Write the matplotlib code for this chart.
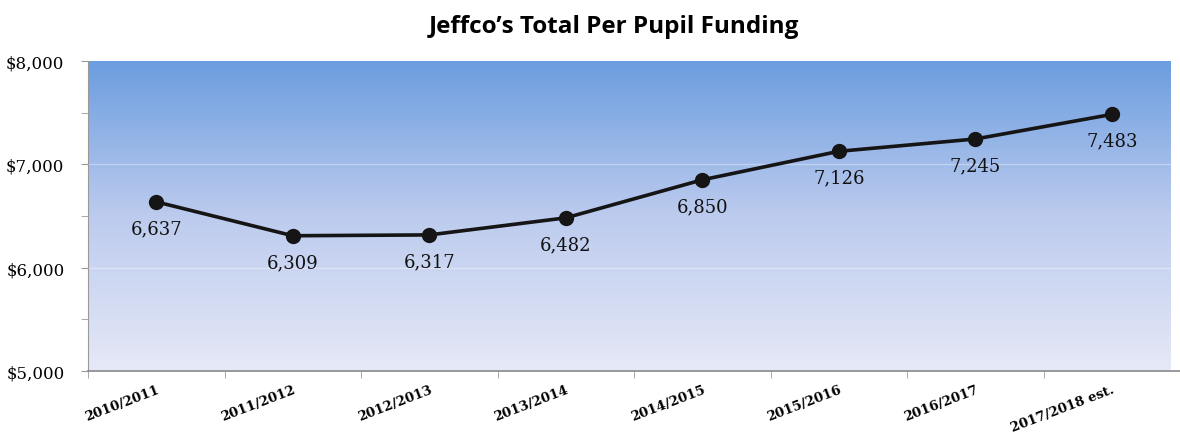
import matplotlib
matplotlib.use("Agg")
import matplotlib.pyplot as plt
import numpy as np
from matplotlib.colors import LinearSegmentedColormap

years = ["2010/2011", "2011/2012", "2012/2013", "2013/2014", "2014/2015",
         "2015/2016", "2016/2017", "2017/2018 est."]
funding = [6637, 6309, 6317, 6482, 6850, 7126, 7245, 7483]
ytick_labels = ["$5,000", "$6,000", "$7,000", "$8,000"]
ytick_values = [5000, 6000, 7000, 8000]

fig = plt.figure(figsize=(11.8, 4.35), dpi=100)
ax = fig.add_axes([0.0746, 0.1448, 0.9254, 0.7127])

x = np.arange(len(years))
xlim = (-0.5, len(years) - 0.57)
ax.set_xlim(*xlim)
ax.set_ylim(5000, 8000)

cmap = LinearSegmentedColormap.from_list("bg", ["#e6e9f7", "#bccbee", "#6b9de0"])
grad = np.linspace(0, 1, 256).reshape(-1, 1)
ax.imshow(grad, aspect="auto", cmap=cmap, origin="lower",
          extent=(xlim[0], xlim[1], 5000, 8000), zorder=0)

for v in [6000, 7000]:
    ax.axhline(v, color="white", lw=1.0, alpha=0.35, zorder=1)

ax.plot(x, funding, color="#151515", lw=2.6, marker="o", markersize=10, zorder=3)
for xi, v in zip(x, funding):
    ax.annotate(f"{v:,}", (xi, v), xytext=(0, -19), textcoords="offset points",
                ha="center", va="center", fontsize=13, family="DejaVu Serif",
                color="#111111", zorder=4)

ax.set_yticks(ytick_values)
ax.set_yticklabels(ytick_labels, fontsize=12, family="DejaVu Serif")
ax.set_yticks(np.arange(5000, 8001, 500), minor=True)
ax.set_xticks(x)
ax.set_xticklabels(years, rotation=21, fontsize=9.5, family="DejaVu Serif",
                   fontweight="bold", ha="right", rotation_mode="anchor")
ax.set_xticks(np.arange(-0.5, len(years), 1), minor=True)
ax.tick_params(axis="x", which="major", length=0, pad=8)
ax.tick_params(axis="x", which="minor", length=5, color="#999999")
ax.tick_params(axis="y", which="both", length=5, color="#999999")
ax.tick_params(axis="y", which="major", pad=12)

for s in ["top", "right"]:
    ax.spines[s].set_visible(False)
ax.spines["left"].set_color("#999999")
ax.spines["bottom"].set_color("#888888")
ax.spines["bottom"].set_linewidth(1.2)

fig.suptitle("Jeffco’s Total Per Pupil Funding", x=0.52, y=0.965,
             fontsize=17.5, fontweight="bold", family="Open Sans")

fig.savefig("out.png", dpi=100)
